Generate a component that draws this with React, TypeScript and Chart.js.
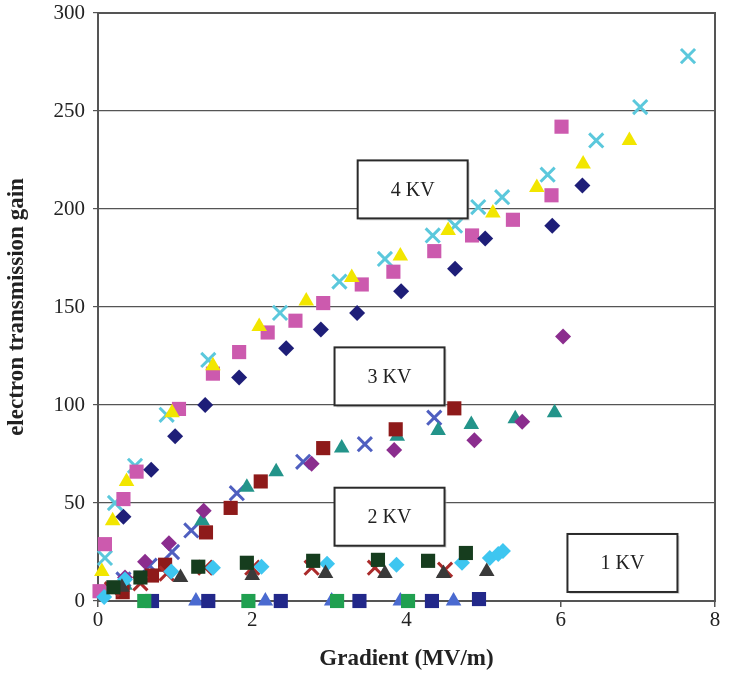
import React, { useEffect, useRef } from "react";
import { Chart, registerables } from "chart.js";

Chart.register(...registerables);

// ---- Data (Gradient MV/m, electron transmission gain) ----
// 4 KV
const kv4Diamond = [[0.33,43],[0.69,67],[1.0,84],[1.39,100],[1.83,114],[2.44,129],[2.89,138.5],[3.36,147],[3.93,158],[4.63,169.5],[5.02,185],[5.89,191.5],[6.28,212]];
const kv4Triangle = [[0.05,15],[0.19,41],[0.37,61],[0.96,96],[1.49,120],[2.09,140],[2.7,153],[3.29,165],[3.92,176],[4.54,189],[5.12,198],[5.69,211],[6.29,223],[6.89,235]];
const kv4Square = [[0.02,5],[0.09,29],[0.33,52],[0.5,66],[1.05,98],[1.49,116],[1.83,127],[2.2,137],[2.56,143],[2.92,152],[3.42,161.5],[3.83,168],[4.36,178.5],[4.85,186.5],[5.38,194.5],[5.88,207],[6.01,242]];
const kv4Cross = [[0.09,22],[0.22,50],[0.48,69],[0.89,95],[1.43,123],[2.36,147],[3.13,163],[3.72,174.5],[4.34,186.5],[4.63,191.5],[4.93,201],[5.24,206],[5.83,217.5],[6.46,235],[7.03,252],[7.65,278]];
// 3 KV
const kv3Diamond = [[0.35,12],[0.61,20],[0.92,29.5],[1.37,46],[2.77,70],[3.84,77],[4.88,82],[5.5,91.5],[6.03,135]];
const kv3Square = [[0.32,4.5],[0.7,13],[0.87,18.5],[1.4,35],[1.72,47.5],[2.11,61],[2.92,78],[3.86,87.6],[4.62,98.3]];
const kv3Triangle = [[0.35,8],[1.35,41],[1.93,58],[2.31,66],[3.16,78],[3.88,84],[4.41,87],[4.84,90],[5.41,93],[5.92,96]];
const kv3Cross = [[0.33,11],[0.67,18],[0.96,25],[1.21,36],[1.8,55],[2.66,71],[3.46,80],[4.36,93.5]];
// 2 KV
const kv2Diamond = [[0.08,2],[0.35,11],[0.95,15],[1.49,17],[2.12,17.5],[2.97,19],[3.87,18.5],[4.72,19.5],[5.08,22],[5.19,24],[5.25,25.5]];
const kv2Square = [[0.2,7],[0.55,12],[1.3,17.5],[1.93,19.5],[2.79,20.5],[3.63,21],[4.28,20.5],[4.77,24.5]];
const kv2Triangle = [[0.31,7],[1.07,12],[2.0,13],[2.95,14],[3.72,14],[4.48,14],[5.04,15]];
const kv2Cross = [[0.18,6],[0.55,9],[0.89,14],[1.39,17],[2.0,17],[2.77,17],[3.59,17],[4.5,16]];
// 1 KV
const kv1GreenSquare = [[0.6,0],[1.95,0],[3.1,0],[4.02,0]];
const kv1NavySquare = [[0.7,0],[1.43,0],[2.37,0],[3.39,0],[4.33,0],[4.94,1]];
const kv1Triangle = [[1.27,0],[2.17,0],[3.03,0],[3.92,0],[4.61,0]];

const groupLabels = ["4 KV", "3 KV", "2 KV", "1 KV"];
const xTicks = [0, 2, 4, 6, 8];
const yTicks = [0, 50, 100, 150, 200, 250, 300];

const SERIF = "'Liberation Serif', 'Times New Roman', serif";

function ds(label: string, pts: number[][], style: string, color: string, radius: number, cross = false) {
  return {
    label,
    data: pts.map(([x, y]) => ({ x, y })),
    pointStyle: style,
    pointRadius: radius,
    pointHoverRadius: radius,
    backgroundColor: color,
    borderColor: color,
    pointBorderWidth: cross ? 3 : 0,
    borderWidth: cross ? 3 : 0,
    showLine: false,
    clip: false as any,
  };
}

const boxes = [
  { text: groupLabels[0], x: 4.08, y: 210 },
  { text: groupLabels[1], x: 3.78, y: 114.6 },
  { text: groupLabels[2], x: 3.78, y: 43 },
  { text: groupLabels[3], x: 6.8, y: 19.4 },
];

const framePlugin = {
  id: "frameAndBoxes",
  beforeDatasetsDraw(chart: any) {
    const { ctx, chartArea } = chart;
    ctx.save();
    ctx.strokeStyle = "#555";
    ctx.lineWidth = 2;
    ctx.strokeRect(chartArea.left, chartArea.top, chartArea.right - chartArea.left, chartArea.bottom - chartArea.top);
    ctx.restore();
  },
  afterDatasetsDraw(chart: any) {
    const { ctx, scales } = chart;
    ctx.save();
    for (const b of boxes) {
      const cx = scales.x.getPixelForValue(b.x);
      const cy = scales.y.getPixelForValue(b.y);
      const w = 110, h = 58;
      ctx.fillStyle = "rgba(180,180,180,0.5)";
      ctx.fillRect(cx - w / 2 + 2, cy - h / 2 + 2, w, h);
      ctx.fillStyle = "#fff";
      ctx.fillRect(cx - w / 2, cy - h / 2, w, h);
      ctx.strokeStyle = "#2a2a2a";
      ctx.lineWidth = 2;
      ctx.strokeRect(cx - w / 2, cy - h / 2, w, h);
      ctx.fillStyle = "#222";
      ctx.font = `20px ${SERIF}`;
      ctx.textAlign = "center";
      ctx.textBaseline = "middle";
      ctx.fillText(b.text, cx, cy + 1);
    }
    ctx.restore();
  },
};

export default function App() {
  const ref = useRef<HTMLCanvasElement | null>(null);
  useEffect(() => {
    if (!ref.current) return;
    const chart = new Chart(ref.current, {
      type: "scatter",
      data: {
        datasets: [
          ds("1 KV green square", kv1GreenSquare, "rect", "#20A050", 10),
          ds("1 KV navy square", kv1NavySquare, "rect", "#22288A", 10),
          ds("1 KV triangle", kv1Triangle, "triangle", "#4A6AD0", 9),
          ds("2 KV square", kv2Square, "rect", "#163D1E", 10),
          ds("2 KV triangle", kv2Triangle, "triangle", "#3A3A3A", 9),
          ds("2 KV diamond", kv2Diamond, "rectRot", "#3EC6F0", 8),
          ds("2 KV cross", kv2Cross, "crossRot", "#AA2A2A", 10, true),
          ds("3 KV square", kv3Square, "rect", "#8E1A1A", 10),
          ds("3 KV diamond", kv3Diamond, "rectRot", "#8B2D8E", 8),
          ds("3 KV triangle", kv3Triangle, "triangle", "#23948A", 9),
          ds("3 KV cross", kv3Cross, "crossRot", "#4F5FC0", 10, true),
          ds("4 KV diamond", kv4Diamond, "rectRot", "#1E1E78", 8),
          ds("4 KV triangle", kv4Triangle, "triangle", "#F2E600", 9),
          ds("4 KV square", kv4Square, "rect", "#CC5AAE", 10),
          ds("4 KV cross", kv4Cross, "crossRot", "#5BC8DC", 10, true),
        ] as any,
      },
      options: {
        animation: false,
        responsive: true,
        maintainAspectRatio: false,
        layout: { padding: { top: 0, right: 15, left: 0, bottom: 0 } },
        plugins: { legend: { display: false }, tooltip: { enabled: false } },
        scales: {
          x: {
            type: "linear",
            min: 0,
            max: 8,
            afterBuildTicks: (s: any) => { s.ticks = xTicks.map((v) => ({ value: v })); },
            afterFit: (s: any) => { s.height = 72; },
            grid: { drawOnChartArea: false, drawTicks: true, tickLength: 6, color: "#555", lineWidth: 1.5 },
            border: { display: true, color: "#555", width: 2 },
            ticks: { color: "#222", font: { family: SERIF, size: 21 }, padding: 1 },
            title: { display: true, text: "Gradient (MV/m)", color: "#222", font: { family: SERIF, size: 23, weight: "bold" }, padding: { top: 0, bottom: 0 } },
          },
          y: {
            type: "linear",
            min: 0,
            max: 300,
            afterBuildTicks: (s: any) => { s.ticks = yTicks.map((v) => ({ value: v })); },
            afterFit: (s: any) => { s.width = 98; s.paddingTop = 12; s.paddingBottom = 0; },
            grid: { drawOnChartArea: true, drawTicks: true, tickLength: 5, color: "#555", lineWidth: 1.2 },
            border: { display: true, color: "#555", width: 2 },
            ticks: { color: "#222", font: { family: SERIF, size: 21 }, padding: 8 },
            title: { display: true, text: "electron transmission gain", color: "#222", font: { family: SERIF, size: 23, weight: "bold" }, padding: { top: 3, bottom: 0 } },
          },
        },
      } as any,
      plugins: [framePlugin],
    });
    return () => chart.destroy();
  }, []);
  return (
    <div style={{ position: "absolute", left: 0, top: 0, width: 730, height: 673, background: "#fff" }}>
      <canvas ref={ref} />
    </div>
  );
}
